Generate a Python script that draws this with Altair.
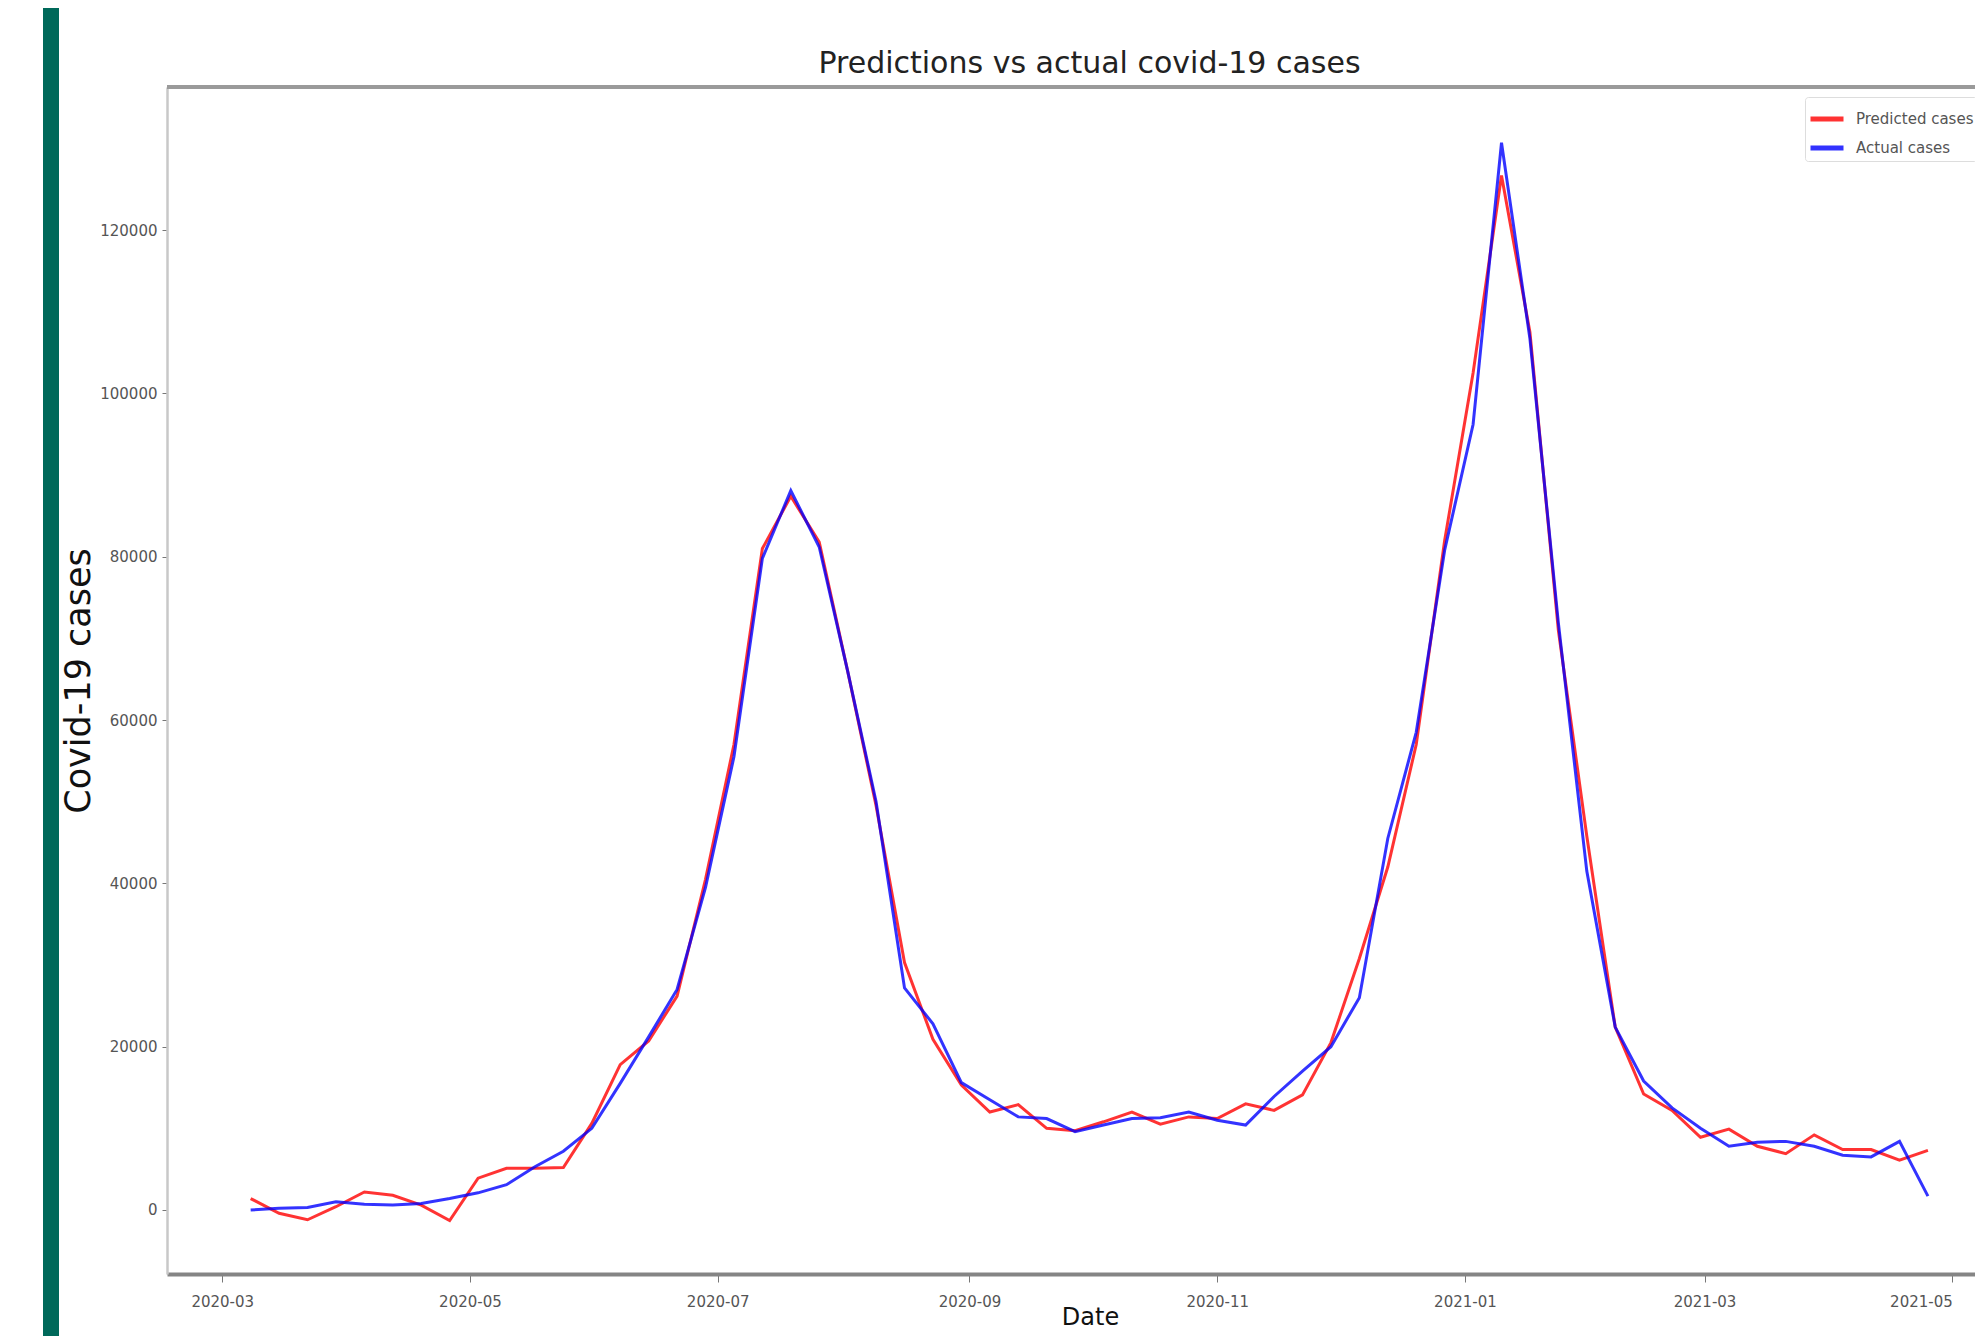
import altair as alt
import pandas as pd

# ---------------- data ----------------
dates = pd.date_range("2020-03-08", periods=60, freq="7D").strftime("%Y-%m-%d").tolist()

predicted = [1400, -400, -1200, 400, 2200, 1800, 600, -1300, 3900, 5100,
             5100, 5200, 10600, 17800, 20700, 26200, 40500, 57000, 81000, 87400,
             81800, 66000, 49500, 30300, 20900, 15300, 12000, 12900, 10000, 9700,
             10800, 12000, 10500, 11400, 11200, 13000, 12200, 14100, 20500, 30800,
             42000, 57000, 82000, 102500, 126700, 107500, 71000, 45800, 22400, 14200,
             12200, 8900, 9900, 7800, 6900, 9200, 7400, 7400, 6100, 7300]

actual = [0, 200, 300, 1000, 700, 600, 800, 1400, 2100, 3100,
          5300, 7200, 10000, 15500, 21200, 27000, 39500, 55500, 79800, 88100,
          81200, 66000, 50000, 27200, 22800, 15600, 13500, 11400, 11200, 9600,
          10400, 11200, 11300, 12000, 11000, 10400, 13900, 17000, 20000, 26000,
          45500, 58500, 80800, 96200, 130700, 106700, 71900, 41500, 22400, 15800,
          12500, 10000, 7800, 8300, 8400, 7800, 6700, 6500, 8400, 1700]

series_names = ["Predicted cases", "Actual cases"]
series_colors = ["#ff0000", "#0000ff"]
y_ticks = [0, 20000, 40000, 60000, 80000, 100000, 120000]
x_tick_months = ["2020-03", "2020-05", "2020-07", "2020-09", "2020-11",
                 "2021-01", "2021-03", "2021-05"]

df = pd.DataFrame({
    "date": dates * 2,
    "cases": predicted + actual,
    "series": [series_names[0]] * len(dates) + [series_names[1]] * len(dates),
})

x_values = [alt.DateTime(year=int(m[:4]), month=int(m[5:]), date=1, utc=True)
            for m in x_tick_months]

FONT = "DejaVu Sans"
W, H = 1845, 1187

x_enc = alt.X(
    "date:T",
    scale=alt.Scale(
        type="utc",
        domain=[alt.DateTime(year=2020, month=2, date=16, hours=9, minutes=36, utc=True),
                alt.DateTime(year=2021, month=5, date=15, hours=16, minutes=48, utc=True)],
    ),
    axis=alt.Axis(
        values=x_values, labelExpr="utcFormat(datum.value, '%Y-%m')",
        labelAlign={"expr": "utcyear(datum.value) == 2021 && utcmonth(datum.value) == 4 ? 'right' : 'center'"},
        labelFont=FONT, labelFontSize=15, labelColor="#555555",
        labelFlush=False, labelOverlap=False,
        tickSize=8, tickColor="#777777", tickWidth=1, labelPadding=12,
        domainColor="#858585", domainWidth=4, grid=False,
        title="Date", titleFont=FONT, titleFontSize=24, titleFontWeight="normal",
        titleColor="#111111", titleX=923, titleY=31, titleAlign="center",
        titleBaseline="top",
    ),
)

y_enc = alt.Y(
    "cases:Q",
    scale=alt.Scale(domain=[-7840, 137530], nice=False, zero=False),
    axis=alt.Axis(
        values=y_ticks, format="d",
        labelFont=FONT, labelFontSize=15, labelColor="#555555",
        tickSize=5, tickColor="#777777", labelPadding=5,
        domainColor="#c8c8c8", domainWidth=2.5, grid=False,
        title="Covid-19 cases", titleFont=FONT, titleFontSize=35,
        titleFontWeight="normal", titleColor="#111111", titleAngle=270,
        titleX=-89, titleY=H / 2, titleAlign="center", titleBaseline="middle",
    ),
)

color_enc = alt.Color(
    "series:N",
    scale=alt.Scale(domain=series_names, range=series_colors),
    legend=alt.Legend(
        title=None, orient="none", legendX=1638, legendY=10,
        symbolType="stroke", symbolSize=1089, symbolStrokeWidth=5,
        symbolOpacity=0.8,
        labelFont=FONT, labelFontSize=15, labelColor="#555555", labelOffset=10,
        padding=3, rowPadding=0, fillColor="#ffffff", strokeColor="#dddddd",
        cornerRadius=3,
    ),
)

base = alt.Chart(df)
pred_line = base.transform_filter(alt.datum.series == series_names[0]).mark_line(
    strokeWidth=3, opacity=0.8, clip=True
).encode(x=x_enc, y=y_enc, color=color_enc)
act_line = base.transform_filter(alt.datum.series == series_names[1]).mark_line(
    strokeWidth=3, opacity=0.8, clip=True
).encode(x=x_enc, y=y_enc, color=color_enc)

frame_df = pd.DataFrame({"k": [0]})

# decorative slide strip at the left edge
strip = alt.Chart(frame_df).mark_rect(
    color="#00695a", clip=False
).encode(x=alt.value(-124), x2=alt.value(-108), y=alt.value(-79), y2=alt.value(H + 62))

# thick top frame line of the plot area
top_rule = alt.Chart(frame_df).mark_rule(
    color="#9a9a9a", strokeWidth=4, clip=False
).encode(x=alt.value(0), x2=alt.value(W), y=alt.value(0))

chart = alt.layer(strip, top_rule, pred_line, act_line).properties(
    width=W, height=H,
    title=alt.TitleParams(
        "Predictions vs actual covid-19 cases", font=FONT, fontSize=30,
        fontWeight="normal", color="#222222", offset=8, dy=79, anchor="middle",
    ),
    autosize=alt.AutoSizeParams(type="none"),
    padding={"left": 159, "top": 79, "right": -37, "bottom": 62},
).configure_view(
    stroke=None
).configure(background="white")

chart.save("out.html", embed_options={"renderer": "svg", "actions": False})
